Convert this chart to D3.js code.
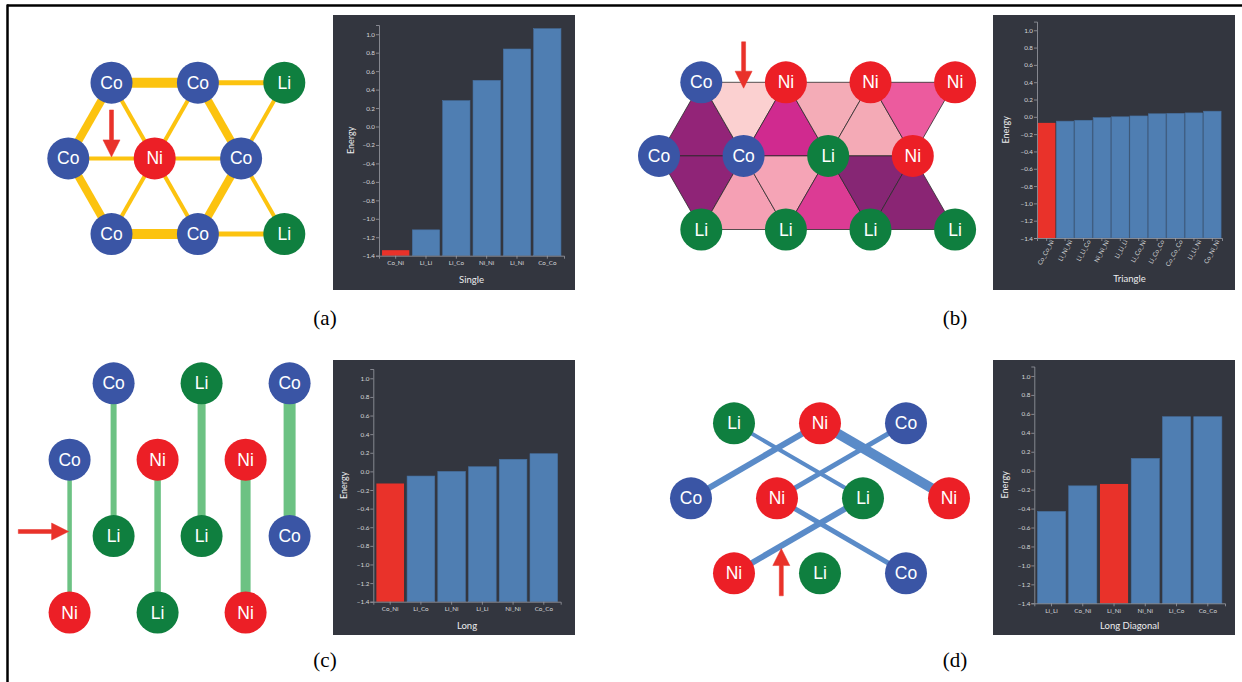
<!DOCTYPE html>
<html>
<head>
<meta charset="utf-8">
<script src="https://cdn.jsdelivr.net/npm/d3@7"></script>
<style>
  body { margin: 0; background: #fff; }
  svg { display: block; }
</style>
</head>
<body>
<div id="fig"></div>
<script>
// ---- bar chart data ----
const singleCats = ["Co_Ni", "Li_Li", "Li_Co", "Ni_Ni", "Li_Ni", "Co_Co"];
const singleVals = [-1.34, -1.12, 0.28, 0.50, 0.84, 1.06];

const triangleCats = ["Co_Co_Ni", "Li_Ni_Ni", "Li_Li_Co", "Ni_Ni_Ni", "Li_Li_Li",
                      "Li_Co_Ni", "Li_Co_Co", "Co_Co_Co", "Li_Li_Ni", "Co_Ni_Ni"];
const triangleVals = [-0.07, -0.05, -0.04, -0.01, 0.00, 0.01, 0.035, 0.04, 0.045, 0.065];

const longCats = ["Co_Ni", "Li_Co", "Li_Ni", "Li_Li", "Ni_Ni", "Co_Co"];
const longVals = [-0.13, -0.05, 0.00, 0.05, 0.13, 0.19];

const diagCats = ["Li_Li", "Co_Ni", "Li_Ni", "Ni_Ni", "Li_Co", "Co_Co"];
const diagVals = [-0.43, -0.16, -0.14, 0.13, 0.57, 0.57];

const yTicks = [-1.4, -1.2, -1.0, -0.8, -0.6, -0.4, -0.2, 0.0, 0.2, 0.4, 0.6, 0.8, 1.0];

// ---- lattice diagram data (grid column / row, element) ----
const singleNodes = [
  ["Co", 1, 0], ["Co", 3, 0], ["Li", 5, 0],
  ["Co", 0, 1], ["Ni", 2, 1], ["Co", 4, 1],
  ["Co", 1, 2], ["Co", 3, 2], ["Li", 5, 2]
];
// [from, to, bond width]
const singleBonds = [
  [0, 1, 10], [1, 2, 5], [0, 3, 8], [0, 4, 4], [1, 4, 4], [1, 5, 8], [2, 5, 4],
  [3, 4, 4], [4, 5, 4], [3, 6, 8], [4, 6, 4], [4, 7, 4], [5, 7, 8], [5, 8, 4],
  [6, 7, 10], [7, 8, 5]
];

const triNodes = [
  ["Co", 1, 0], ["Ni", 3, 0], ["Ni", 5, 0], ["Ni", 7, 0],
  ["Co", 0, 1], ["Co", 2, 1], ["Li", 4, 1], ["Ni", 6, 1],
  ["Li", 1, 2], ["Li", 3, 2], ["Li", 5, 2], ["Li", 7, 2]
];
// [a, b, c, fill]
const triFaces = [
  [0, 4, 5, "#932478"], [0, 1, 5, "#fbd0d0"], [1, 5, 6, "#d02a8f"],
  [1, 2, 6, "#f4acb7"], [2, 6, 7, "#f4aab6"], [2, 3, 7, "#ec5b9e"],
  [4, 5, 8, "#8f2477"], [5, 8, 9, "#f5a0b4"], [5, 6, 9, "#f5a4b6"],
  [6, 9, 10, "#dc3b94"], [6, 7, 10, "#862674"], [7, 10, 11, "#8a2574"]
];

const longNodes = [
  ["Co", 1, 0], ["Li", 3, 0], ["Co", 5, 0],
  ["Co", 0, 1], ["Ni", 2, 1], ["Ni", 4, 1],
  ["Li", 1, 2], ["Li", 3, 2], ["Co", 5, 2],
  ["Ni", 0, 3], ["Li", 2, 3], ["Ni", 4, 3]
];
const longBonds = [[3, 9, 4.5], [0, 6, 6], [4, 10, 6.5], [1, 7, 8], [5, 11, 10], [2, 8, 12]];

const diagNodes = [
  ["Li", 1, 0], ["Ni", 3, 0], ["Co", 5, 0],
  ["Co", 0, 1], ["Ni", 2, 1], ["Li", 4, 1], ["Ni", 6, 1],
  ["Ni", 1, 2], ["Li", 3, 2], ["Co", 5, 2]
];
const diagBonds = [[0, 5, 4], [1, 3, 6], [1, 6, 10], [2, 4, 5], [4, 9, 5], [5, 7, 6]];

const elemColor = { Co: "#3a55a5", Ni: "#ec1f26", Li: "#0f7f3f" };
const red = "#e9322a";

const W = 1242, H = 682;
const svg = d3.select("#fig").append("svg")
  .attr("width", W)
  .attr("height", H);

// outer frame (top and left rules)
svg.append("line").attr("x1", 7).attr("x2", W).attr("y1", 5.5).attr("y2", 5.5)
  .attr("stroke", "#000").attr("stroke-width", 2.5);
svg.append("line").attr("x1", 7.5).attr("x2", 7.5).attr("y1", 4.5).attr("y2", H)
  .attr("stroke", "#000").attr("stroke-width", 2.5);

// panel letters
[["(a)", 325, 318], ["(b)", 955, 318], ["(c)", 325, 660], ["(d)", 955, 660]].forEach(d => {
  svg.append("text")
    .attr("x", d[1]).attr("y", d[2])
    .attr("text-anchor", "middle")
    .attr("dominant-baseline", "central")
    .style("font-family", "'Liberation Serif', 'DejaVu Serif', serif")
    .style("font-size", "21px")
    .text(d[0]);
});

// ---- bar chart helper ----
function barChart(cfg) {
  const g = svg.append("g");
  g.append("rect")
    .attr("x", cfg.bg[0]).attr("y", cfg.bg[1])
    .attr("width", cfg.bg[2] - cfg.bg[0]).attr("height", cfg.bg[3] - cfg.bg[1])
    .attr("fill", "#33363f");

  const x = d3.scaleBand()
    .domain(cfg.cats)
    .range([cfg.x0, cfg.x1])
    .padding(cfg.pad);
  const y = d3.scaleLinear()
    .domain([-1.4, 1.1])
    .range([cfg.yBot, cfg.yTop]);

  g.selectAll("rect.bar")
    .data(cfg.cats.map((c, i) => ({ c: c, v: cfg.vals[i] })))
    .join("rect")
    .attr("class", "bar")
    .attr("x", d => x(d.c))
    .attr("width", x.bandwidth())
    .attr("y", d => y(d.v))
    .attr("height", d => y(-1.4) - y(d.v))
    .attr("fill", d => d.c === cfg.hi ? red : "#4f7eb2")
    .attr("stroke", d => d.c === cfg.hi ? "none" : "#46709f")
    .attr("stroke-width", 0.6);

  const yAxis = g.append("g")
    .attr("transform", `translate(${cfg.x0},0)`)
    .call(d3.axisLeft(y).tickValues(yTicks).tickFormat(d3.format(".1f")).tickSize(3).tickSizeOuter(3));
  const xAxis = g.append("g")
    .attr("transform", `translate(0,${cfg.yBot})`)
    .call(d3.axisBottom(x).tickSize(3).tickSizeOuter(3));

  [yAxis, xAxis].forEach(a => {
    a.selectAll("path, line").attr("stroke", "#9a9ca3").attr("stroke-width", 0.8);
    a.selectAll("text")
      .attr("fill", "#d6d7da")
      .style("font-family", "Lato, 'Noto Sans', sans-serif")
      .style("font-size", "6.3px");
  });
  yAxis.selectAll("text").attr("x", -4);
  xAxis.selectAll("text").attr("y", 5);

  if (cfg.rotate) {
    xAxis.selectAll("text")
      .attr("text-anchor", "end")
      .attr("dy", 0)
      .attr("transform", "translate(3,1) rotate(-62)");
  }

  g.append("text")
    .attr("transform", `translate(${cfg.eX},${(cfg.yBot + cfg.yTop) / 2}) rotate(-90)`)
    .attr("text-anchor", "middle")
    .attr("dominant-baseline", "central")
    .attr("fill", "#ececee")
    .style("font-family", "Lato, 'Noto Sans', sans-serif")
    .style("font-size", "9px")
    .text("Energy");

  g.append("text")
    .attr("x", (cfg.x0 + cfg.x1) / 2)
    .attr("y", cfg.tY)
    .attr("text-anchor", "middle")
    .attr("dominant-baseline", "central")
    .attr("fill", "#ececee")
    .style("font-family", "Lato, 'Noto Sans', sans-serif")
    .style("font-size", "9.5px")
    .text(cfg.title);
}

barChart({ cats: singleCats, vals: singleVals, hi: "Co_Ni", title: "Single",
  bg: [333, 15, 575, 290], x0: 379, x1: 564, yBot: 255.7, yTop: 25, pad: 0.1, eX: 350, tY: 279 });
barChart({ cats: triangleCats, vals: triangleVals, hi: "Co_Co_Ni", title: "Triangle",
  bg: [993, 15, 1235, 290], x0: 1037, x1: 1222, yBot: 238, yTop: 21.6, pad: 0.05, eX: 1005, tY: 278, rotate: true });
barChart({ cats: longCats, vals: longVals, hi: "Co_Ni", title: "Long",
  bg: [333, 360, 575, 635], x0: 373.3, x1: 560.7, yBot: 601.7, yTop: 369, pad: 0.1, eX: 343, tY: 625 });
barChart({ cats: diagCats, vals: diagVals, hi: "Li_Ni", title: "Long Diagonal",
  bg: [993, 360, 1235, 635], x0: 1034.3, x1: 1225, yBot: 603.3, yTop: 366.5, pad: 0.1, eX: 1004, tY: 625 });

// ---- diagram helpers ----
function drawNodes(g, nodes, sx, sy) {
  const n = g.selectAll("g.node")
    .data(nodes)
    .join("g")
    .attr("class", "node")
    .attr("transform", d => `translate(${sx(d[1])},${sy(d[2])})`);
  n.append("circle").attr("r", 21).attr("fill", d => elemColor[d[0]]);
  n.append("text")
    .attr("text-anchor", "middle")
    .attr("dominant-baseline", "central")
    .attr("fill", "#fff")
    .style("font-family", "'Liberation Sans', Arial, sans-serif")
    .style("font-size", "17.5px")
    .text(d => d[0]);
}

function drawBonds(g, nodes, bonds, sx, sy, color) {
  g.selectAll("line.bond")
    .data(bonds)
    .join("line")
    .attr("class", "bond")
    .attr("x1", d => sx(nodes[d[0]][1])).attr("y1", d => sy(nodes[d[0]][2]))
    .attr("x2", d => sx(nodes[d[1]][1])).attr("y2", d => sy(nodes[d[1]][2]))
    .attr("stroke", color)
    .attr("stroke-width", d => d[2]);
}

// red arrow from (x1,y1) to tip (x2,y2)
function arrow(g, x1, y1, x2, y2) {
  const len = Math.hypot(x2 - x1, y2 - y1);
  const ang = Math.atan2(y2 - y1, x2 - x1) * 180 / Math.PI;
  const hl = 17, hw = 8.5, sw = 2;
  const a = g.append("g").attr("transform", `translate(${x1},${y1}) rotate(${ang})`);
  a.append("path")
    .attr("d", `M0,${-sw} L${len - hl},${-sw} L${len - hl},${-hw} L${len},0 L${len - hl},${hw} L${len - hl},${sw} L0,${sw} Z`)
    .attr("fill", red)
    .attr("stroke", red)
    .attr("stroke-width", 0.5)
    .attr("stroke-linejoin", "round");
}

// (a) single bonds
{
  const g = svg.append("g");
  const sx = d3.scaleLinear().domain([0, 1]).range([68.3, 111.5]);
  const sy = d3.scaleLinear().domain([0, 1]).range([82.7, 158.4]);
  drawBonds(g, singleNodes, singleBonds, sx, sy, "#fcc30f");
  drawNodes(g, singleNodes, sx, sy);
  arrow(g, sx(1), sy(0.36), sx(1), sy(0.98));
}

// (b) triangles
{
  const g = svg.append("g");
  const sx = d3.scaleLinear().domain([0, 1]).range([659, 701.3]);
  const sy = d3.scaleLinear().domain([0, 1]).range([82.3, 155.9]);
  g.selectAll("path.face")
    .data(triFaces)
    .join("path")
    .attr("class", "face")
    .attr("d", d => "M" + [d[0], d[1], d[2]].map(i => sx(triNodes[i][1]) + "," + sy(triNodes[i][2])).join("L") + "Z")
    .attr("fill", d => d[3])
    .attr("stroke", "#2b2b2b")
    .attr("stroke-width", 0.8)
    .attr("stroke-linejoin", "round");
  drawNodes(g, triNodes, sx, sy);
  arrow(g, sx(2), sy(-0.55), sx(2), sy(0.08));
}

// (c) long bonds
{
  const g = svg.append("g");
  const sx = d3.scaleLinear().domain([0, 1]).range([69.6, 113.6]);
  const sy = d3.scaleLinear().domain([0, 1]).range([383.3, 459.7]);
  drawBonds(g, longNodes, longBonds, sx, sy, "#6cc283");
  drawNodes(g, longNodes, sx, sy);
  arrow(g, 18.3, sy(1.94), sx(0) - 1, sy(1.94));
}

// (d) long diagonal bonds
{
  const g = svg.append("g");
  const sx = d3.scaleLinear().domain([0, 1]).range([691, 734]);
  const sy = d3.scaleLinear().domain([0, 1]).range([423.3, 498.3]);
  drawBonds(g, diagNodes, diagBonds, sx, sy, "#5a8bc8");
  drawNodes(g, diagNodes, sx, sy);
  arrow(g, sx(2.1), sy(2.3), sx(2.1), sy(1.67));
}
</script>
</body>
</html>
